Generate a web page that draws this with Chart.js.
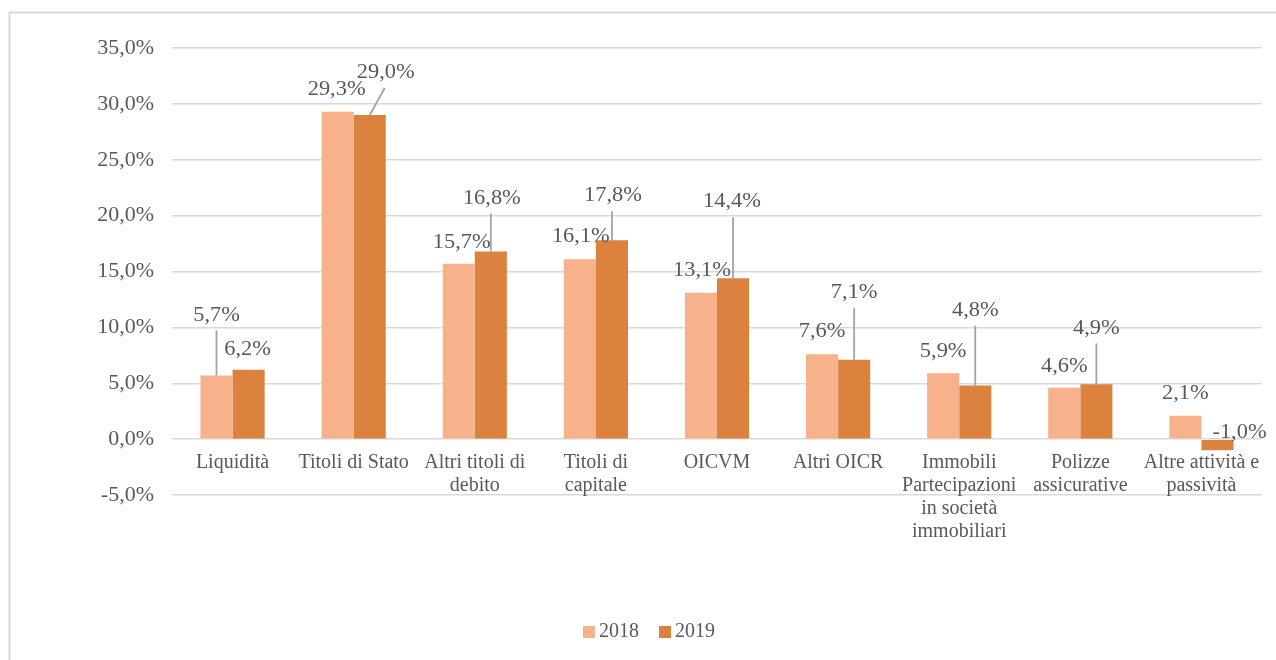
<!DOCTYPE html>
<html>
<head>
<meta charset="utf-8">
<script src="https://cdn.jsdelivr.net/npm/chart.js@4/dist/chart.umd.min.js"></script>
<style>
  html, body { margin: 0; padding: 0; background: #fff; overflow: hidden; }
  #wrap { width: 1276px; height: 660px; position: relative; }
</style>
</head>
<body>
<div id="wrap"><canvas id="chart" width="1276" height="660"></canvas></div>
<script>
// data
const categories = [
    "Liquidità",
    "Titoli di Stato",
    ["Altri titoli di", "debito"],
    ["Titoli di", "capitale"],
    "OICVM",
    "Altri OICR",
    ["Immobili", "Partecipazioni", "in società", "immobiliari"],
    ["Polizze", "assicurative"],
    ["Altre attività e", "passività"]
];
const seriesNames = ["2018", "2019"];
const values2018 = [5.7, 29.3, 15.7, 16.1, 13.1, 7.6, 5.9, 4.6, 2.1];
const values2019 = [6.2, 29.0, 16.8, 17.8, 14.4, 7.1, 4.8, 4.9, -1.0];
const yTicks = [-5, 0, 5, 10, 15, 20, 25, 30, 35];

// label placement (pixel offsets from bar end) and leader lines
const labelOffsets2018 = [[0, -60], [-1, -22], [3, -21], [1, -22], [1, -22], [0, -22], [0, -21], [0, -21], [0, -22]];
const labelOffsets2019 = [[-1, -20], [16, -42], [1, -53], [1, -44], [-1, -76], [0, -67], [0, -75], [0, -56], [22, -18]];
const leaders2018 = [true, false, false, false, false, false, false, false, false];
const leaders2019 = [false, true, true, true, true, true, true, true, false];

const colors = ["#F7B28B", "#DA823E"];
const textColor = "#595959";
const gridColor = "#D9D9D9";
const fontFamily = "'Liberation Serif', 'Times New Roman', serif";

function fmt(v) {
    return v.toFixed(1).replace(".", ",") + "%";
}

// percent text in the source is a little wider than plain Times
function wideText(ctx, txt, x, y) {
    ctx.save();
    ctx.translate(x, y);
    ctx.scale(1.12, 1);
    ctx.fillText(txt, 0, 0);
    ctx.restore();
}

const decorPlugin = {
    id: "decor",
    beforeDraw(chart) {
        const ctx = chart.ctx;
        ctx.save();
        ctx.strokeStyle = gridColor;
        ctx.lineWidth = 2;
        ctx.strokeRect(9.5, 12.5, 1400, 800);
        ctx.restore();
    },
    afterDatasetsDraw(chart) {
        const ctx = chart.ctx;
        const x = chart.scales.x;
        const y = chart.scales.y;
        const zeroY = y.getPixelForValue(0);
        ctx.save();
        ctx.font = "20px " + fontFamily;
        ctx.fillStyle = textColor;
        ctx.textAlign = "center";
        ctx.textBaseline = "middle";

        // category labels under the zero line
        categories.forEach((c, i) => {
            const lines = Array.isArray(c) ? c : [c];
            const cx = x.getPixelForValue(i);
            lines.forEach((ln, k) => ctx.fillText(ln, cx, zeroY + 24 + k * 23));
        });

        // data labels with leader lines
        const offsets = [labelOffsets2018, labelOffsets2019];
        const leaders = [leaders2018, leaders2019];
        chart.data.datasets.forEach((ds, d) => {
            const meta = chart.getDatasetMeta(d);
            meta.data.forEach((bar, i) => {
                const lx = bar.x + offsets[d][i][0];
                const ly = bar.y + offsets[d][i][1];
                if (leaders[d][i]) {
                    const ex = Math.abs(offsets[d][i][0]) < 3 ? bar.x : lx - 1;
                    ctx.strokeStyle = "#A3A3A3";
                    ctx.lineWidth = 1.8;
                    ctx.beginPath();
                    ctx.moveTo(bar.x, bar.y);
                    ctx.lineTo(ex, ly + 15);
                    ctx.stroke();
                }
                ctx.fillStyle = textColor;
                wideText(ctx, fmt(ds.data[i]), lx, ly);
            });
        });

        // legend
        ctx.textAlign = "left";
        const legendX = [583, 659];
        const legendY = 632;
        seriesNames.forEach((n, k) => {
            ctx.fillStyle = colors[k];
            ctx.fillRect(legendX[k], legendY - 6, 12, 12);
            ctx.fillStyle = textColor;
            ctx.fillText(n, legendX[k] + 16, legendY);
        });
        ctx.restore();
    }
};

new Chart(document.getElementById("chart"), {
    type: "bar",
    data: {
        labels: categories,
        datasets: [
            { label: seriesNames[0], data: values2018, backgroundColor: colors[0] },
            { label: seriesNames[1], data: values2019, backgroundColor: colors[1] }
        ]
    },
    options: {
        responsive: false,
        animation: false,
        devicePixelRatio: 1,
        layout: { padding: { left: 0, top: 48, right: 14, bottom: 165 } },
        datasets: { bar: { categoryPercentage: 0.53, barPercentage: 1 } },
        plugins: {
            legend: { display: false },
            tooltip: { enabled: false }
        },
        scales: {
            x: { display: false },
            y: {
                min: -5,
                max: 35,
                afterFit: s => { s.width = 172; },
                afterBuildTicks: s => { s.ticks = yTicks.map(v => ({ value: v })); },
                border: { display: false },
                grid: { color: gridColor, lineWidth: 1.5, drawTicks: false },
                ticks: {
                    padding: 18,
                    color: textColor,
                    font: { family: fontFamily, size: 22 },
                    callback: v => fmt(v)
                }
            }
        }
    },
    plugins: [decorPlugin]
});
</script>
</body>
</html>
